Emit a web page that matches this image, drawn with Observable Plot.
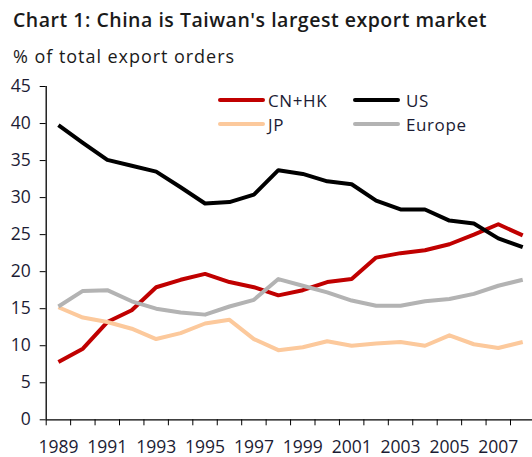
<!DOCTYPE html>
<html>
<head>
<meta charset="utf-8">
<script src="https://cdn.jsdelivr.net/npm/d3@7"></script>
<script src="https://cdn.jsdelivr.net/npm/@observablehq/plot@0.6"></script>
<style>
  html, body { margin: 0; padding: 0; background: #fff; }
  #wrap { position: relative; width: 532px; height: 457px; overflow: hidden; font-family: "Open Sans", sans-serif; color: #1c1c34; }
  .hdr { position: absolute; left: 13px; white-space: nowrap; line-height: 1; }
  #title { top: 10px; font-size: 19.5px; font-weight: 600; color: #1a1a1a; }
  #subtitle { top: 47px; font-size: 18px; color: #1a1a1a; }
  #chart { position: absolute; left: 0; top: 70px; }
  .leg { position: absolute; display: flex; align-items: center; font-size: 17px; line-height: 1; white-space: nowrap; }
  .leg .sw { display: inline-block; width: 47px; height: 4px; border-radius: 2px; }
</style>
</head>
<body>
<div id="wrap">
  <div id="title" class="hdr">Chart 1: China is Taiwan's largest export market</div>
  <div id="subtitle" class="hdr">% of total export orders</div>
  <div id="chart"></div>
  <div id="legend"></div>
</div>
<script>
// ---- data ----
const years = [1989, 1990, 1991, 1992, 1993, 1994, 1995, 1996, 1997, 1998,
               1999, 2000, 2001, 2002, 2003, 2004, 2005, 2006, 2007, 2008];
const cnhk   = [7.8, 9.6, 13.2, 14.8, 17.9, 18.9, 19.7, 18.6, 17.9, 16.8,
                17.5, 18.6, 19.0, 21.9, 22.5, 22.9, 23.7, 25.0, 26.4, 24.9];
const us     = [39.8, 37.4, 35.1, 34.3, 33.5, 31.4, 29.2, 29.4, 30.4, 33.7,
                33.2, 32.2, 31.8, 29.6, 28.4, 28.4, 26.9, 26.5, 24.5, 23.3];
const jp     = [15.2, 13.8, 13.2, 12.3, 10.9, 11.7, 13.0, 13.5, 10.9, 9.4,
                9.8, 10.6, 10.0, 10.3, 10.5, 10.0, 11.4, 10.2, 9.7, 10.5];
const europe = [15.3, 17.4, 17.5, 16.0, 15.0, 14.5, 14.2, 15.3, 16.2, 19.0,
                18.1, 17.2, 16.1, 15.4, 15.4, 16.0, 16.3, 17.0, 18.1, 18.9];
const seriesNames  = ["CN+HK", "US", "JP", "Europe"];
const seriesColors = ["#c00000", "#000000", "#fcc99c", "#b3b3b3"];
const drawOrder    = ["CN+HK", "JP", "Europe", "US"];
const yTicks = [0, 5, 10, 15, 20, 25, 30, 35, 40, 45];
const xTickLabels = [1989, 1991, 1993, 1995, 1997, 1999, 2001, 2003, 2005, 2007];

// ---- build table ----
const valuesBySeries = {"CN+HK": cnhk, "US": us, "JP": jp, "Europe": europe};
const rows = [];
for (const s of drawOrder) {
  valuesBySeries[s].forEach((v, i) => rows.push({series: s, year: years[i], value: v}));
}
const boundaries = years.map(y => y - 0.5);

const chart = Plot.plot({
  width: 532,
  height: 387,
  marginLeft: 45.7,
  marginRight: 0,
  marginTop: 16,
  marginBottom: 37.7,
  style: {fontFamily: "Open Sans, sans-serif", color: "#1c1c34", background: "transparent"},
  x: {type: "linear", domain: [1988.5, 2008.4], axis: null},
  y: {domain: [0, 45], axis: null},
  color: {domain: seriesNames, range: seriesColors},
  marks: [
    Plot.axisY(yTicks, {tickSize: 6, tickPadding: 9.5, fontSize: 17.5, label: null, stroke: "#000"}),
    Plot.axisX(boundaries, {tickSize: 6, fill: "none", label: null, stroke: "#000"}),
    Plot.axisX(xTickLabels, {tickSize: 0, tickPadding: 21, fontSize: 17.5, label: null, tickFormat: d => String(d)}),
    Plot.ruleX([1988.5], {y1: 0, y2: 45, stroke: "#000", strokeWidth: 1.3}),
    Plot.ruleY([0], {stroke: "#000", strokeWidth: 1.3}),
    Plot.line(rows, {x: "year", y: "value", z: "series", stroke: "series", strokeWidth: 4, strokeLinejoin: "round", strokeLinecap: "butt"})
  ]
});
document.getElementById("chart").appendChild(chart);

// ---- legend ----
const legendPos = {
  "CN+HK": {left: 218, top: 100},
  "JP":    {left: 218, top: 124},
  "US":    {left: 353, top: 100},
  "Europe":{left: 353, top: 124}
};
const legend = document.getElementById("legend");
seriesNames.forEach((name, i) => {
  const item = document.createElement("div");
  item.className = "leg";
  const p = legendPos[name];
  item.style.left = p.left + "px";
  item.style.top = (p.top - 9) + "px";
  item.style.height = "18px";
  const sw = document.createElement("span");
  sw.className = "sw";
  sw.style.background = seriesColors[i];
  sw.style.marginRight = (name === "US" || name === "Europe") ? "6px" : "3px";
  const t = document.createElement("span");
  t.textContent = name;
  t.style.letterSpacing = "0.6px";
  item.appendChild(sw);
  item.appendChild(t);
  legend.appendChild(item);
});

// fit header widths to reference
function fitWidth(el, target) {
  const w = el.getBoundingClientRect().width;
  const n = el.textContent.length;
  el.style.letterSpacing = ((target - w) / n) + "px";
}
fitWidth(document.getElementById("title"), 474);
fitWidth(document.getElementById("subtitle"), 222);
</script>
</body>
</html>
